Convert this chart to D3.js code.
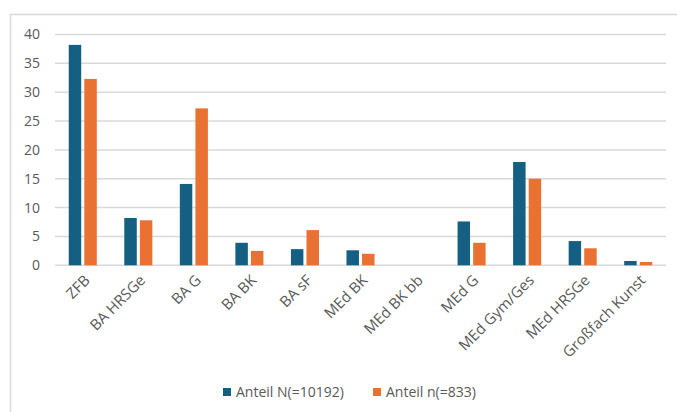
<!DOCTYPE html>
<html>
<head>
<meta charset="utf-8">
<script src="https://cdn.jsdelivr.net/npm/d3@7"></script>
<style>
  html, body { margin: 0; padding: 0; background: #fff; }
  svg { display: block; font-family: "Open Sans", "Noto Sans", sans-serif; }
</style>
</head>
<body>
<svg id="chart" width="677" height="412"></svg>
<script>
// Shares per study programme
const categories = ["ZFB", "BA HRSGe", "BA G", "BA BK", "BA sF", "MEd BK", "MEd BK bb", "MEd G", "MEd Gym/Ges", "MEd HRSGe", "Großfach Kunst"];
const seriesNames = ["Anteil N(=10192)", "Anteil n(=833)"];
const shareN = [38.2, 8.2, 14.1, 3.9, 2.8, 2.6, 0, 7.6, 17.9, 4.2, 0.75];
const shareSample = [32.3, 7.8, 27.2, 2.5, 6.1, 2.0, 0, 3.9, 15.0, 2.95, 0.57];
const yTicks = [0, 5, 10, 15, 20, 25, 30, 35, 40];
const colors = ["#156082", "#E97132"];

const svg = d3.select("#chart");
const plot = { left: 55, right: 666, top: 34.5, bottom: 265.3 };
const textColor = "#595959";
const font = "'Open Sans', sans-serif";

// outer chart frame
svg.append("rect")
  .attr("x", 10.5).attr("y", 14.5)
  .attr("width", 700).attr("height", 420)
  .attr("fill", "none").attr("stroke", "#d9d9d9").attr("stroke-width", 1.5);

const x0 = d3.scaleBand().domain(categories).range([plot.left, plot.right])
  .paddingInner(0.495).paddingOuter(0.2475);
const x1 = d3.scaleBand().domain(seriesNames).range([0, x0.bandwidth()]).paddingInner(0.2);
const y = d3.scaleLinear().domain([0, 40]).range([plot.bottom, plot.top]);

// horizontal gridlines
svg.append("g")
  .selectAll("line").data(yTicks).join("line")
  .attr("x1", plot.left).attr("x2", plot.right)
  .attr("y1", d => y(d)).attr("y2", d => y(d))
  .attr("stroke", "#d9d9d9").attr("stroke-width", 1.5);

// y axis labels
const yAxis = d3.axisLeft(y).tickValues(yTicks).tickSize(0).tickPadding(0);
svg.append("g")
  .attr("transform", `translate(40,0)`)
  .call(yAxis)
  .call(g => g.select(".domain").remove())
  .call(g => g.selectAll("text").attr("fill", textColor).attr("font-size", 14).attr("font-family", font));

// bars
const data = categories.map((c, i) => ({ cat: c, vals: [shareN[i], shareSample[i]] }));
svg.append("g").selectAll("g").data(data).join("g")
  .attr("transform", d => `translate(${x0(d.cat)},0)`)
  .selectAll("rect").data(d => d.vals.map((v, j) => ({ name: seriesNames[j], v, j })))
  .join("rect")
  .attr("x", d => x1(d.name))
  .attr("width", x1.bandwidth())
  .attr("y", d => y(d.v))
  .attr("height", d => y(0) - y(d.v))
  .attr("fill", d => colors[d.j]);

// category labels, rotated
const xAxis = d3.axisBottom(x0).tickSize(0).tickPadding(0);
svg.append("g")
  .attr("transform", `translate(0,${plot.bottom})`)
  .call(xAxis)
  .call(g => g.select(".domain").remove())
  .call(g => g.selectAll("text")
    .attr("fill", textColor).attr("font-size", 15).attr("font-family", font)
    .attr("text-anchor", "end")
    .attr("dy", null).attr("y", 0)
    .attr("transform", "translate(8,16) rotate(-45)"));

// legend
const legend = svg.append("g").attr("transform", "translate(223,392)");
const legendX = [0, 150];
seriesNames.forEach((name, i) => {
  const g = legend.append("g").attr("transform", `translate(${legendX[i]},0)`);
  g.append("rect").attr("x", 0).attr("y", -4).attr("width", 8).attr("height", 8).attr("fill", colors[i]);
  g.append("text").attr("x", 13).attr("y", 0).attr("dy", "0.35em")
    .attr("fill", textColor).attr("font-size", 14).attr("font-family", font).text(name);
});
</script>
</body>
</html>
